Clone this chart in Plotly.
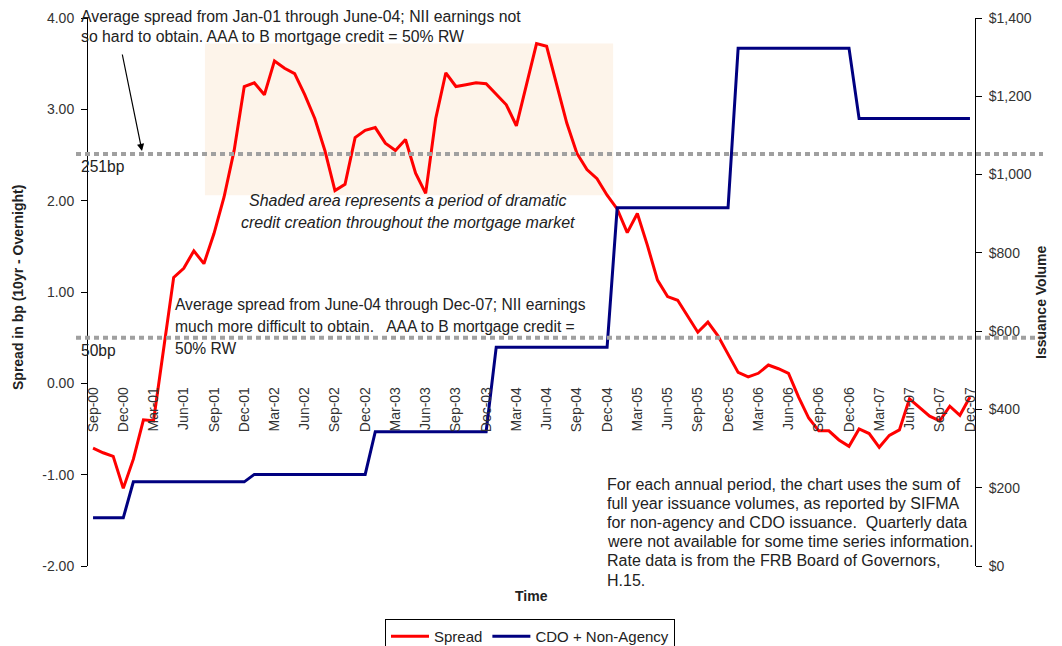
import plotly.graph_objects as go
import pandas as pd

# ---------------- data ----------------
months = pd.date_range("2000-09-01", periods=88, freq="MS").strftime("%b-%y").tolist()

spread = [
    -0.71, -0.76, -0.80, -1.15,                                          # Sep-00..Dec-00
    -0.83, -0.40, -0.41, 0.38, 1.16, 1.26, 1.45, 1.31, 1.64, 2.04, 2.55, 3.25,  # 2001
    3.29, 3.16, 3.53, 3.45, 3.39, 3.16, 2.90, 2.55, 2.11, 2.18, 2.69, 2.77,     # 2002
    2.80, 2.63, 2.55, 2.67, 2.30, 2.08, 2.90, 3.40, 3.25, 3.27, 3.29, 3.28,     # 2003
    3.16, 3.05, 2.82, 3.28, 3.72, 3.69, 3.28, 2.85, 2.52, 2.34, 2.24, 2.06,     # 2004
    1.91, 1.65, 1.86, 1.51, 1.13, 0.95, 0.91, 0.74, 0.56, 0.67, 0.52, 0.32,     # 2005
    0.12, 0.07, 0.11, 0.20, 0.16, 0.11, -0.15, -0.38, -0.52, -0.52, -0.62, -0.69,  # 2006
    -0.50, -0.55, -0.70, -0.57, -0.51, -0.17, -0.26, -0.36, -0.41, -0.25, -0.35, -0.15,  # 2007
]

cdo_non_agency = [
    123, 123, 123, 123,
    215, 215, 215, 215, 215, 215, 215, 215, 215, 215, 215, 215,
    234, 234, 234, 234, 234, 234, 234, 234, 234, 234, 234, 234,
    343, 343, 343, 343, 343, 343, 343, 343, 343, 343, 343, 343,
    559, 559, 559, 559, 559, 559, 559, 559, 559, 559, 559, 559,
    915, 915, 915, 915, 915, 915, 915, 915, 915, 915, 915, 915,
    1323, 1323, 1323, 1323, 1323, 1323, 1323, 1323, 1323, 1323, 1323, 1323,
    1143, 1143, 1143, 1143, 1143, 1143, 1143, 1143, 1143, 1143, 1143, 1143,
]

tick_labels = months[::3]
left_ticks = [-2, -1, 0, 1, 2, 3, 4]
left_tick_text = ["-2.00", "-1.00", "0.00", "1.00", "2.00", "3.00", "4.00"]

avg_early = 2.51   # Jan-01 .. Jun-04
avg_late = 0.50    # Jun-04 .. Dec-07

# ---------------- layout helpers (screen pixel coordinates) ----------------
W, H = 1062, 646
OFF = 8                      # default page body margin
SL, ST, SR, SB = 88, 18, 975, 566   # plot area on screen
PW, PH = SR - SL, SB - ST
ML, MT = SL - OFF, ST - OFF
MR, MB = W - (SR - OFF), H - (SB - OFF)


def px(x):
    return (x - SL) / PW


def py(y):
    return (SB - y) / PH


FONT = "Arial, Liberation Sans, sans-serif"
TXT = "#222222"

fig = go.Figure()
fig.add_trace(go.Scatter(x=months, y=spread, name="Spread", mode="lines",
                         line=dict(color="#FF0000", width=3), yaxis="y"))
fig.add_trace(go.Scatter(x=months, y=cdo_non_agency, name="CDO + Non-Agency", mode="lines",
                         line=dict(color="#000080", width=3), yaxis="y2"))

shapes = [
    # shaded credit-creation period
    dict(type="rect", xref="x", yref="y", x0=11.1, x1=51.6, y0=2.06, y1=3.72,
         fillcolor="#FDF4EA", line=dict(width=0), layer="below"),
    dict(type="line", xref="paper", yref="y", x0=px(76), x1=px(1043), y0=avg_early, y1=avg_early,
         line=dict(color="#A0A0A0", width=4, dash="5px,4px")),
    dict(type="line", xref="paper", yref="y", x0=px(76), x1=px(1043), y0=avg_late, y1=avg_late,
         line=dict(color="#A0A0A0", width=4, dash="5px,4px")),
]

ann = []


def note(text, x, y, xanchor="left", yanchor="middle", size=16, italic=False, bold=False, angle=0):
    t = text
    if bold:
        t = "<b>" + t + "</b>"
    if italic:
        t = "<i>" + t + "</i>"
    ann.append(dict(text=t, x=px(x), y=py(y), xref="paper", yref="paper", xanchor=xanchor,
                    yanchor=yanchor, showarrow=False, textangle=angle,
                    font=dict(family=FONT, size=size, color=TXT)))


def block(lines, x, y0, dy, **kw):
    for k, line in enumerate(lines):
        note(line, x, y0 + k * dy, **kw)


block(["Average spread from Jan-01 through June-04; NII earnings not",
       "so hard to obtain. AAA to B mortgage credit = 50% RW"], 79, 16, 20, size=15.8)
note("251bp", 79, 167, size=15.6)
block(["Shaded area represents a period of dramatic",
       "credit creation throughout the mortgage market"], 408, 200, 22,
      xanchor="center", italic=True, size=16)
block(["Average spread from June-04 through Dec-07; NII earnings",
       "much more difficult to obtain.   AAA to B mortgage credit =",
       "50% RW"], 173, 305, 21.5, size=15.6)
note("50bp", 79, 350, size=15.6)
block(["For each annual period, the chart uses the sum of",
       "full year issuance volumes, as reported by SIFMA",
       "for non-agency and CDO issuance.  Quarterly data",
       "were not available for some time series information.",
       "Rate data is from the FRB Board of Governors,",
       "H.15."], 605, 484, 19.2, size=16)
note("Spread in bp (10yr - Overnight)", 18, 288, xanchor="center", bold=True, angle=-90, size=14)
note("Issuance Volume", 1041, 302, xanchor="center", bold=True, angle=-90, size=14)
note("Time", 531, 596, xanchor="center", bold=True, size=14)

# arrow pointing at the 251bp line
ann.append(dict(x=px(142), y=py(151), xref="paper", yref="paper", ax=-20, ay=-98,
                axref="pixel", ayref="pixel", text="", showarrow=True, arrowhead=2,
                arrowsize=1.2, arrowwidth=1.2, arrowcolor="black"))

fig.update_layout(
    width=W, height=H,
    margin=dict(l=ML, r=MR, t=MT, b=MB, autoexpand=False),
    paper_bgcolor="white", plot_bgcolor="white",
    font=dict(family=FONT, size=14, color="#333333"),
    showlegend=True,
    legend=dict(orientation="h", x=px(385), y=py(619), xanchor="left", yanchor="top",
                bordercolor="black", borderwidth=1, bgcolor="white",
                font=dict(family=FONT, size=15, color=TXT), itemwidth=38,
                tracegroupgap=0),
    xaxis=dict(type="category", range=[-0.5, 87.5], tickmode="array",
               tickvals=tick_labels, ticktext=tick_labels, tickangle=-90,
               anchor="free", position=py(383.3), showline=False, ticks="",
               showgrid=False, zeroline=False, automargin=False,
               tickfont=dict(family=FONT, size=14, color="#333333")),
    yaxis=dict(range=[-2, 4], tickmode="array", tickvals=left_ticks, ticktext=left_tick_text,
               showline=True, linecolor="black",
               linewidth=1, ticks="outside", ticklen=6, tickcolor="black", showgrid=False,
               zeroline=False, ticklabelstandoff=4, automargin=False,
               tickfont=dict(family=FONT, size=14, color="#333333")),
    yaxis2=dict(range=[0, 1400], dtick=200, tickformat="$,.0f", overlaying="y", side="right",
                showline=True, linecolor="black", linewidth=1, ticks="outside", ticklen=6,
                tickcolor="black", showgrid=False, zeroline=False, ticklabelstandoff=4,
                automargin=False,
                tickfont=dict(family=FONT, size=14, color="#333333")),
    shapes=shapes,
    annotations=ann,
)

fig.write_html("out.html")
